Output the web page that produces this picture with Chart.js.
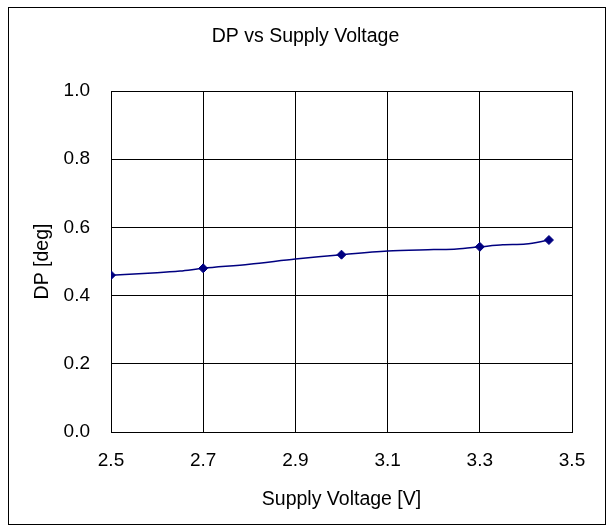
<!DOCTYPE html>
<html>
<head>
<meta charset="utf-8">
<script src="https://cdn.jsdelivr.net/npm/chart.js@4"></script>
<style>
  body { margin: 0; background: #fff; }
  canvas { display: block; }
</style>
</head>
<body>
<canvas id="chart" width="611" height="526"></canvas>
<script>
const ctx = document.getElementById('chart');

// measured points (markers)
const voltage = [2.5, 2.7, 3.0, 3.3, 3.45];
const dp = [0.46, 0.48, 0.52, 0.543, 0.563];

// trace of the connecting line
const traceV = [2.5, 2.6, 2.65, 2.7, 2.8, 2.9, 3.0, 3.1, 3.2, 3.25, 3.3, 3.35, 3.4, 3.45];
const traceDp = [0.46, 0.467, 0.472, 0.48, 0.492, 0.507, 0.52, 0.531, 0.535, 0.537, 0.543, 0.549, 0.551, 0.563];

const xTicks = [2.5, 2.7, 2.9, 3.1, 3.3, 3.5];
const yTicks = [0.0, 0.2, 0.4, 0.6, 0.8, 1.0];

const navy = "#000080";
const font = "Arial, 'Liberation Sans', sans-serif";

const frame = {
  id: 'frame',
  beforeDraw(chart) {
    const c = chart.ctx;
    c.save();
    c.fillStyle = "#fff";
    c.fillRect(0, 0, chart.width, chart.height);
    c.strokeStyle = "#000";
    c.lineWidth = 1;
    c.strokeRect(8.5, 7.5, 597, 517);
    c.restore();
  }
};

new Chart(ctx, {
  type: "scatter",
  data: {
    datasets: [{
      type: "line",
      data: traceV.map((v, i) => ({x: v, y: traceDp[i]})),
      borderColor: navy,
      borderWidth: 1.5,
      pointRadius: 0,
      tension: 0.3,
      fill: false
    }, {
      data: voltage.map((v, i) => ({x: v, y: dp[i]})),
      backgroundColor: navy,
      borderColor: navy,
      pointStyle: "rectRot",
      pointRadius: 4.5,
      pointHoverRadius: 4.5
    }]
  },
  options: {
    responsive: false,
    devicePixelRatio: 1,
    animation: false,
    layout: { padding: {left: 10, right: 10, top: 0, bottom: 10} },
    plugins: {
      legend: {display: false},
      tooltip: {enabled: false},
      title: {
        display: true,
        text: "DP vs Supply Voltage",
        color: "#000",
        font: {family: font, size: 19.5, weight: "normal", lineHeight: 1.2},
        padding: {top: 25.3, bottom: 42.3}
      }
    },
    scales: {
      x: {
        type: "linear",
        min: 2.5,
        max: 3.5,
        afterBuildTicks: s => { s.ticks = xTicks.map(v => ({value: v})); },
        afterFit: s => { s.height = 84; },
        grid: {color: "#000", lineWidth: 1, drawTicks: false},
        border: {color: "#000", width: 1},
        ticks: {
          color: "#000",
          padding: 17,
          maxRotation: 0,
          font: {family: font, size: 19},
          callback: v => Number(v).toFixed(1)
        },
        title: {
          display: true,
          text: "Supply Voltage [V]",
          color: "#000",
          font: {family: font, size: 19.5, lineHeight: 1.2},
          padding: {top: 0, bottom: 4.3}
        }
      },
      y: {
        min: 0,
        max: 1,
        afterBuildTicks: s => { s.ticks = yTicks.map(v => ({value: v})); },
        afterFit: s => { s.width = 101; },
        grid: {color: "#000", lineWidth: 1, drawTicks: false},
        border: {color: "#000", width: 1},
        ticks: {
          color: "#000",
          padding: 21,
          font: {family: font, size: 19},
          callback: v => Number(v).toFixed(1)
        },
        title: {
          display: true,
          text: "DP [deg]",
          color: "#000",
          font: {family: font, size: 19.5, lineHeight: 1.2},
          padding: {top: 21.3, bottom: 0}
        }
      },
      // empty strip on the right so the chart title sits in the middle of the frame
      gap: {
        position: "right",
        min: 0,
        max: 1,
        afterFit: s => { s.width = 29; },
        grid: {display: false, drawTicks: false},
        border: {display: false},
        ticks: {display: false}
      }
    }
  },
  plugins: [frame]
});
</script>
</body>
</html>
